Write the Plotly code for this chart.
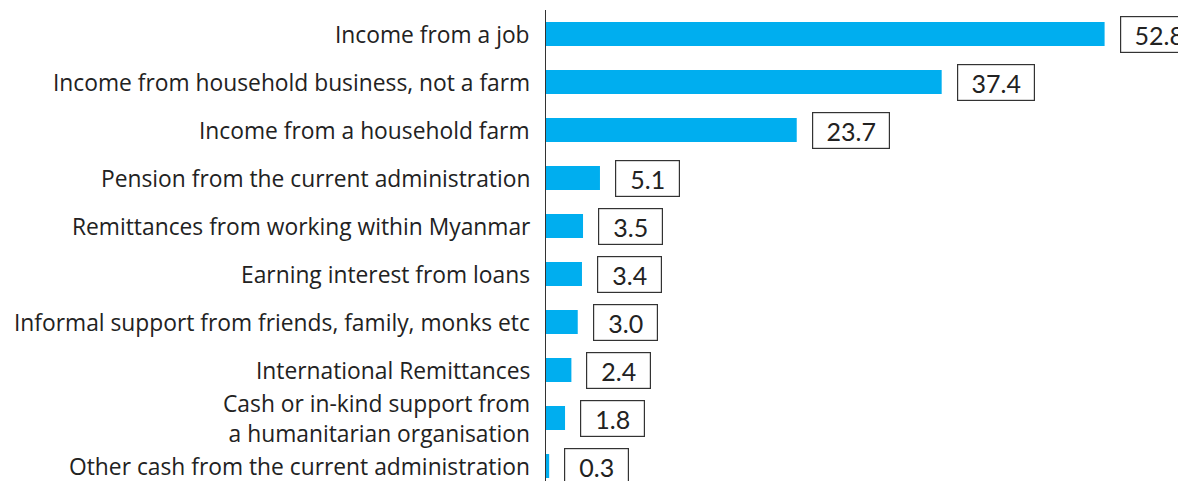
import plotly.graph_objects as go

categories = [
    "Income from a job",
    "Income from household business, not a farm",
    "Income from a household farm",
    "Pension from the current administration",
    "Remittances from working within Myanmar",
    "Earning interest from loans",
    "Informal support from friends, family, monks etc",
    "International Remittances",
    "Cash or in-kind support from<br>a humanitarian organisation",
    "Other cash from the current administration",
]
values = [52.8, 37.4, 23.7, 5.1, 3.5, 3.4, 3.0, 2.4, 1.8, 0.3]
value_labels = ["52.8", "37.4", "23.7", "5.1", "3.5", "3.4", "3.0", "2.4", "1.8", "0.3"]

positions = list(range(len(categories)))

fig = go.Figure()
fig.add_trace(go.Bar(
    x=values,
    y=positions,
    orientation="h",
    width=0.5,
    marker=dict(color="#00AEEF", line=dict(width=0)),
    hoverinfo="skip",
))

label_font = dict(family="Open Sans", size=22.8, color="#222222")
for cat, p in zip(categories, positions):
    fig.add_annotation(
        x=0, y=p, xref="x", yref="y",
        text=cat, showarrow=False,
        xanchor="right", yanchor="middle", align="right",
        xshift=-14,
        font=label_font,
    )

for v, lab, p in zip(values, value_labels, positions):
    fig.add_annotation(
        x=v, y=p, xref="x", yref="y",
        text=lab, showarrow=False,
        xanchor="left", yanchor="middle",
        xshift=15,
        width=13 * len(lab) + 18, height=29,
        align="center", valign="middle",
        font=dict(family="Lato", size=25, color="#222222"),
        bordercolor="#333333", borderwidth=1.2, borderpad=3,
        bgcolor="white",
    )

fig.update_layout(
    width=1186, height=481,
    margin=dict(l=538, r=0, t=2, b=0),
    plot_bgcolor="white", paper_bgcolor="white",
    showlegend=False,
    xaxis=dict(range=[0, 61.25], visible=False, fixedrange=True),
    yaxis=dict(
        range=[9.479, -0.5],
        tickvals=positions, showticklabels=False,
        showline=True, linecolor="#333333", linewidth=1,
        showgrid=False, zeroline=False, ticks="",
    ),
)

fig.write_html("out.html")
